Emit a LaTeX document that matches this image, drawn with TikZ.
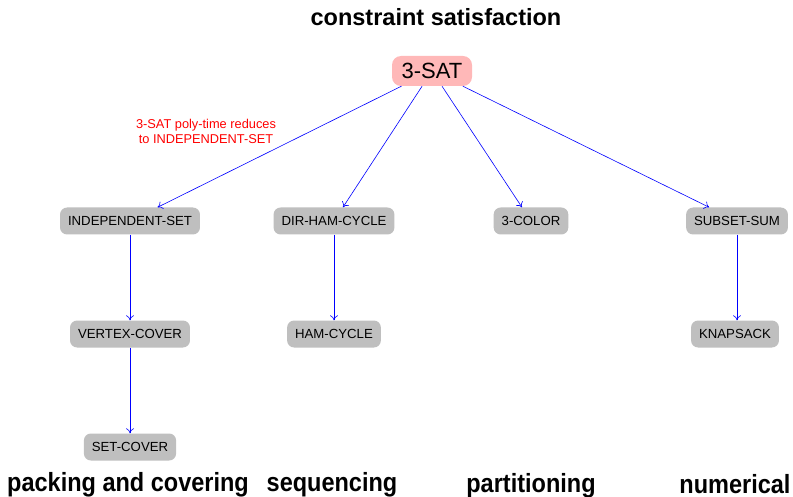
\documentclass[tikz,border=0pt]{standalone}
\usepackage{fontspec}
\setmainfont{Liberation Sans}
\usetikzlibrary{arrows.meta}
\begin{document}
\begin{tikzpicture}[x=1pt,y=-1pt,
  prob/.style={rounded corners=7pt, fill=black!25, inner sep=0pt, minimum height=27pt, inner xsep=8pt, font=\fontsize{13.2}{15}\selectfont},
  root/.style={rounded corners=9pt, fill=red!28, inner sep=0pt, minimum height=30pt, minimum width=80pt, font=\fontsize{22}{26}\selectfont},
  red arrow/.style={draw=blue, line width=0.6pt, ->},
  cat/.style={font=\bfseries\fontsize{23.5}{28}\selectfont, inner sep=0pt, anchor=base},
  lbl/.style={text=red, font=\fontsize{12.8}{15}\selectfont, align=center},
  >={To[length=5pt,width=8pt]}]
\useasboundingbox (0,0) rectangle (793,497);
\node[cat] (title) at (436,26) {constraint satisfaction};
\node[root] (sat) at (432,71) {3-SAT};
\node[prob] (is) at (130,221) {INDEPENDENT-SET};
\node[prob] (dhc) at (334,221) {DIR-HAM-CYCLE};
\node[prob] (col) at (531,221) {3-COLOR};
\node[prob] (ss) at (737,221) {SUBSET-SUM};
\node[prob] (vc) at (130,334) {VERTEX-COVER};
\node[prob] (hc) at (334,334) {HAM-CYCLE};
\node[prob] (ks) at (735,334) {KNAPSACK};
\node[prob] (sc) at (130,447) {SET-COVER};
\node[lbl] (l1) at (206,131) {3-SAT poly-time reduces\\to INDEPENDENT-SET};
\draw[red arrow] (sat) -- (is);
\draw[red arrow] (sat) -- (dhc);
\draw[red arrow] (sat) -- (col);
\draw[red arrow] (sat) -- (ss);
\draw[red arrow] (is) -- (vc);
\draw[red arrow] (vc) -- (sc);
\draw[red arrow] (dhc) -- (hc);
\draw[red arrow] (ss.south -| 737,0) -- (ks.north -| 737,0);
\node[cat, yscale=1.12] (c1) at (128,491) {packing and covering};
\node[cat, yscale=1.12] (c2) at (332,491) {sequencing};
\node[cat, yscale=1.12] (c3) at (531,492) {partitioning};
\node[cat, yscale=1.12] (c4) at (735,493) {numerical};
\end{tikzpicture}
\end{document}
